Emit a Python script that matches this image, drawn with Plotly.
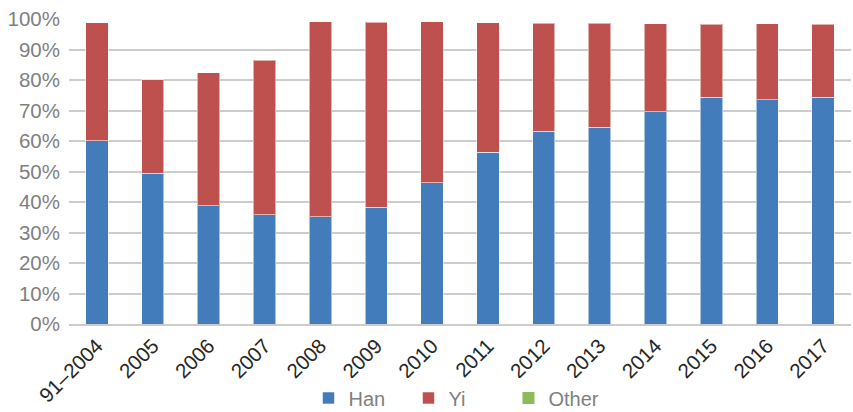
import plotly.graph_objects as go

# Share of workers by ethnicity per period
periods = ["91–2004", "2005", "2006", "2007", "2008", "2009", "2010",
           "2011", "2012", "2013", "2014", "2015", "2016", "2017"]
han = [60.1, 49.5, 38.7, 35.9, 35.2, 38.2, 46.3, 56.3, 63.2, 64.5, 69.6, 74.4, 73.6, 74.4]
yi = [38.6, 30.6, 43.7, 50.6, 63.9, 60.8, 52.8, 42.4, 35.4, 34.1, 28.8, 23.8, 24.8, 23.8]
other = [0, 0, 0, 0, 0, 0, 0, 0, 0, 0, 0, 0, 0, 0]

y_ticks = [0, 10, 20, 30, 40, 50, 60, 70, 80, 90, 100]

font_family = "Liberation Sans, Arial, sans-serif"
edge = dict(color="rgba(255,255,255,0.55)", width=1)

fig = go.Figure()
fig.add_trace(go.Bar(name="Han", x=periods, y=han, marker=dict(color="#427CBB", line=edge)))
fig.add_trace(go.Bar(name="Yi", x=periods, y=yi, marker=dict(color="#BE504E", line=edge)))
fig.add_trace(go.Bar(name="Other", x=periods, y=other, marker=dict(color="#8DBB5A", line=dict(width=0))))

fig.update_layout(
    barmode="stack",
    bargap=0.6,
    width=853,
    height=412,
    margin=dict(l=69, r=2, t=19, b=88, autoexpand=False),
    paper_bgcolor="white",
    plot_bgcolor="white",
    font=dict(family=font_family, size=20, color="#7f7f7f"),
    showlegend=True,
    legend=dict(
        orientation="h",
        x=0.5375, xanchor="center", xref="container",
        y=0.034, yanchor="middle", yref="container",
        font=dict(size=20, color="#7f7f7f"),
        itemwidth=30,
        entrywidth=55,
        traceorder="normal",
    ),
    xaxis=dict(
        tickangle=-45,
        tickfont=dict(size=20.5, color="#262626"),
        showgrid=False,
        showline=True,
        linecolor="#cccccc",
        linewidth=1.5,
        ticks="",
        automargin=False,
    ),
    yaxis=dict(
        range=[0, 100],
        tickvals=y_ticks,
        ticktext=[f"{v}%" for v in y_ticks],
        tickfont=dict(size=20.5, color="#7f7f7f"),
        showgrid=True,
        gridcolor="#cccccc",
        gridwidth=1.5,
        zeroline=False,
        ticks="",
        ticklabelstandoff=8,
        automargin=False,
    ),
)

fig.write_html("out.html")
